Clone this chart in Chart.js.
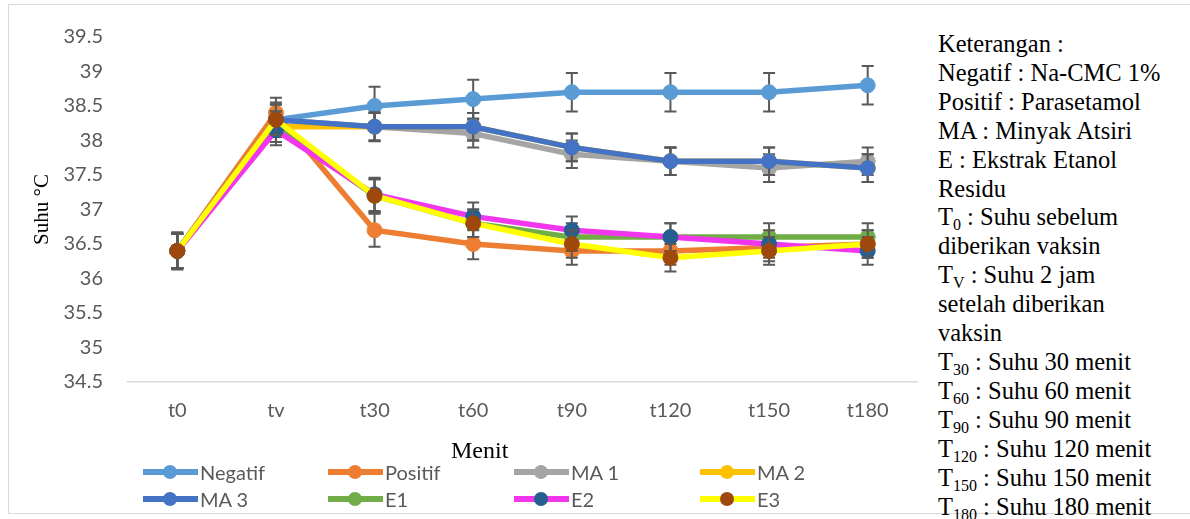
<!DOCTYPE html>
<html>
<head>
<meta charset="utf-8">
<script src="https://cdn.jsdelivr.net/npm/chart.js@4"></script>
<style>
    body { margin: 0; background: #fff; }
    #wrap { position: relative; width: 1190px; height: 519px; overflow: hidden; }
    #frame { position: absolute; left: 8px; top: 4px; width: 1200px; height: 510px; border: 1.5px solid #d9d9d9; box-sizing: border-box; }
    #chart { position: absolute; left: 0; top: 0; }
    #xtitle { position: absolute; left: 451px; top: 437px; font: 24px "Liberation Serif", serif; color: #000; }
    #legend { position: absolute; left: 0; top: 0; }
    .item { position: absolute; height: 20px; font: 20px Lato, sans-serif; color: #595959; line-height: 20px; white-space: nowrap; }
    .item .ln { position: absolute; left: 0; top: 7px; width: 55px; height: 6px; }
    .item .mk { position: absolute; left: 20px; top: 3px; width: 14px; height: 14px; border-radius: 50%; }
    .item .tx { position: absolute; left: 57px; top: 0; }
    #notes { position: absolute; left: 938px; top: 30px; font: 24.5px "Liberation Serif", serif; line-height: 28.9px; color: #000; white-space: nowrap; }
    #notes sub { font-size: 16px; vertical-align: -5px; line-height: 0; }
</style>
</head>
<body>
<div id="wrap">
    <div id="frame"></div>
    <canvas id="chart" width="930" height="519"></canvas>
    <div id="xtitle">Menit</div>
    <div id="legend"></div>
    <div id="notes">
        Keterangan :<br>
        Negatif : Na-CMC 1%<br>
        Positif : Parasetamol<br>
        MA : Minyak Atsiri<br>
        E : Ekstrak Etanol<br>
        Residu<br>
        T<sub>0</sub> : Suhu sebelum<br>
        diberikan vaksin<br>
        T<sub>V</sub> : Suhu 2 jam<br>
        setelah diberikan<br>
        vaksin<br>
        T<sub>30</sub> : Suhu 30 menit<br>
        T<sub>60</sub> : Suhu 60 menit<br>
        T<sub>90</sub> : Suhu 90 menit<br>
        T<sub>120</sub> : Suhu 120 menit<br>
        T<sub>150</sub> : Suhu 150 menit<br>
        T<sub>180</sub> : Suhu 180 menit
    </div>
</div>
<script>
const categories = ['t0', 'tv', 't30', 't60', 't90', 't120', 't150', 't180'];

const negatif = [36.4, 38.3, 38.5, 38.6, 38.7, 38.7, 38.7, 38.8];
const positif = [36.4, 38.4, 36.7, 36.5, 36.4, 36.4, 36.45, 36.5];
const ma1 = [36.4, 38.3, 38.2, 38.1, 37.8, 37.7, 37.6, 37.7];
const ma2 = [36.4, 38.2, 38.2, 38.2, 37.9, 37.7, 37.7, 37.6];
const ma3 = [36.4, 38.3, 38.2, 38.2, 37.9, 37.7, 37.7, 37.6];
const e1 = [36.4, 38.2, 37.2, 36.8, 36.6, 36.6, 36.6, 36.6];
const e2 = [36.4, 38.15, 37.22, 36.9, 36.7, 36.6, 36.5, 36.4];
const e3 = [36.4, 38.3, 37.2, 36.8, 36.5, 36.3, 36.4, 36.5];

// standard deviation (error bars)
const negatifErr = [0.27, 0.25, 0.28, 0.28, 0.28, 0.28, 0.28, 0.28];
const positifErr = [0.25, 0.22, 0.24, 0.22, 0.2, 0.2, 0.2, 0.2];
const ma1Err = [0.25, 0.22, 0.2, 0.2, 0.2, 0.2, 0.2, 0.2];
const ma2Err = [0.25, 0.22, 0.2, 0.2, 0.2, 0.2, 0.2, 0.2];
const ma3Err = [0.25, 0.22, 0.21, 0.2, 0.2, 0.2, 0.2, 0.2];
const e1Err = [0.25, 0.22, 0.24, 0.2, 0.2, 0.2, 0.2, 0.2];
const e2Err = [0.25, 0.22, 0.24, 0.2, 0.2, 0.2, 0.2, 0.2];
const e3Err = [0.25, 0.22, 0.24, 0.2, 0.2, 0.2, 0.2, 0.2];

const yTicks = [34.5, 35, 35.5, 36, 36.5, 37, 37.5, 38, 38.5, 39, 39.5];

const seriesNames = ['Negatif', 'Positif', 'MA 1', 'MA 2', 'MA 3', 'E1', 'E2', 'E3'];
const seriesValues = [negatif, positif, ma1, ma2, ma3, e1, e2, e3];
const seriesErrors = [negatifErr, positifErr, ma1Err, ma2Err, ma3Err, e1Err, e2Err, e3Err];
const lineColors = ['#5B9BD5', '#ED7D31', '#A5A5A5', '#FFC000', '#4472C4', '#70AD47', '#F236EE', '#FFFF00'];
const markerColors = ['#5B9BD5', '#ED7D31', '#A5A5A5', '#FFC000', '#4472C4', '#70AD47', '#255E91', '#9E480E'];

// draws error bars of each series just before that series' line and markers
const errorBars = {
    id: 'errorBars',
    beforeDatasetDraw(chart, args) {
        const ds = chart.data.datasets[args.index];
        const yScale = chart.scales.y;
        const ctx = chart.ctx;
        ctx.save();
        ctx.strokeStyle = '#595959';
        ctx.lineWidth = 2;
        args.meta.data.forEach((pt, i) => {
            const v = ds.data[i];
            const err = ds.errors[i];
            const top = yScale.getPixelForValue(v + err);
            const bot = yScale.getPixelForValue(v - err);
            ctx.beginPath();
            ctx.moveTo(pt.x, top);
            ctx.lineTo(pt.x, bot);
            ctx.moveTo(pt.x - 6, top);
            ctx.lineTo(pt.x + 6, top);
            ctx.moveTo(pt.x - 6, bot);
            ctx.lineTo(pt.x + 6, bot);
            ctx.stroke();
        });
        ctx.restore();
    }
};

function buildDatasets() {
    return seriesNames.map((name, i) => ({
        label: name,
        data: seriesValues[i],
        errors: seriesErrors[i],
        // first series is painted first, last one ends up on top
        order: seriesNames.length - 1 - i,
        borderColor: lineColors[i],
        backgroundColor: markerColors[i],
        pointBackgroundColor: markerColors[i],
        pointBorderColor: markerColors[i],
        borderWidth: 5.5,
        pointRadius: 7.5,
        pointBorderWidth: 1,
        tension: 0,
        fill: false
    }));
}

function buildLegend() {
    const legend = document.getElementById('legend');
    const colX = [143, 328, 514, 700];
    const rowY = [462, 489];
    seriesNames.forEach((name, i) => {
        const item = document.createElement('div');
        item.className = 'item';
        item.style.left = colX[i % 4] + 'px';
        item.style.top = rowY[Math.floor(i / 4)] + 'px';
        item.innerHTML = `<div class="ln" style="background:${lineColors[i]}"></div>` +
            `<div class="mk" style="background:${markerColors[i]}"></div>` +
            `<span class="tx">${name}</span>`;
        legend.appendChild(item);
    });
}

function drawChart() {
    const ctx = document.getElementById('chart');
    new Chart(ctx, {
        type: 'line',
        data: {
            labels: categories,
            datasets: buildDatasets()
        },
        options: {
            responsive: false,
            animation: false,
            devicePixelRatio: 1,
            layout: {
                padding: {left: 0, top: 35, right: 13, bottom: 87}
            },
            plugins: {
                legend: {display: false},
                tooltip: {enabled: false}
            },
            scales: {
                x: {
                    offset: true,
                    grid: {display: false, drawTicks: false},
                    border: {display: true, color: '#d9d9d9', width: 1.5},
                    ticks: {
                        color: '#595959',
                        font: {family: 'Lato', size: 20},
                        padding: 17
                    },
                    afterFit: s => { s.height = 50; }
                },
                y: {
                    min: 34.5,
                    max: 39.5,
                    grid: {display: false, drawTicks: false},
                    border: {display: false},
                    afterBuildTicks: s => { s.ticks = yTicks.map(v => ({value: v})); },
                    ticks: {
                        color: '#595959',
                        font: {family: 'Lato', size: 20},
                        padding: 25,
                        callback: v => String(v)
                    },
                    title: {
                        display: true,
                        text: 'Suhu °C',
                        color: '#000',
                        font: {family: 'Liberation Serif', size: 21},
                        padding: {top: 30, bottom: 0}
                    },
                    afterFit: s => { s.width = 128; }
                }
            }
        },
        plugins: [errorBars]
    });
}

buildLegend();
drawChart();
</script>
</body>
</html>
